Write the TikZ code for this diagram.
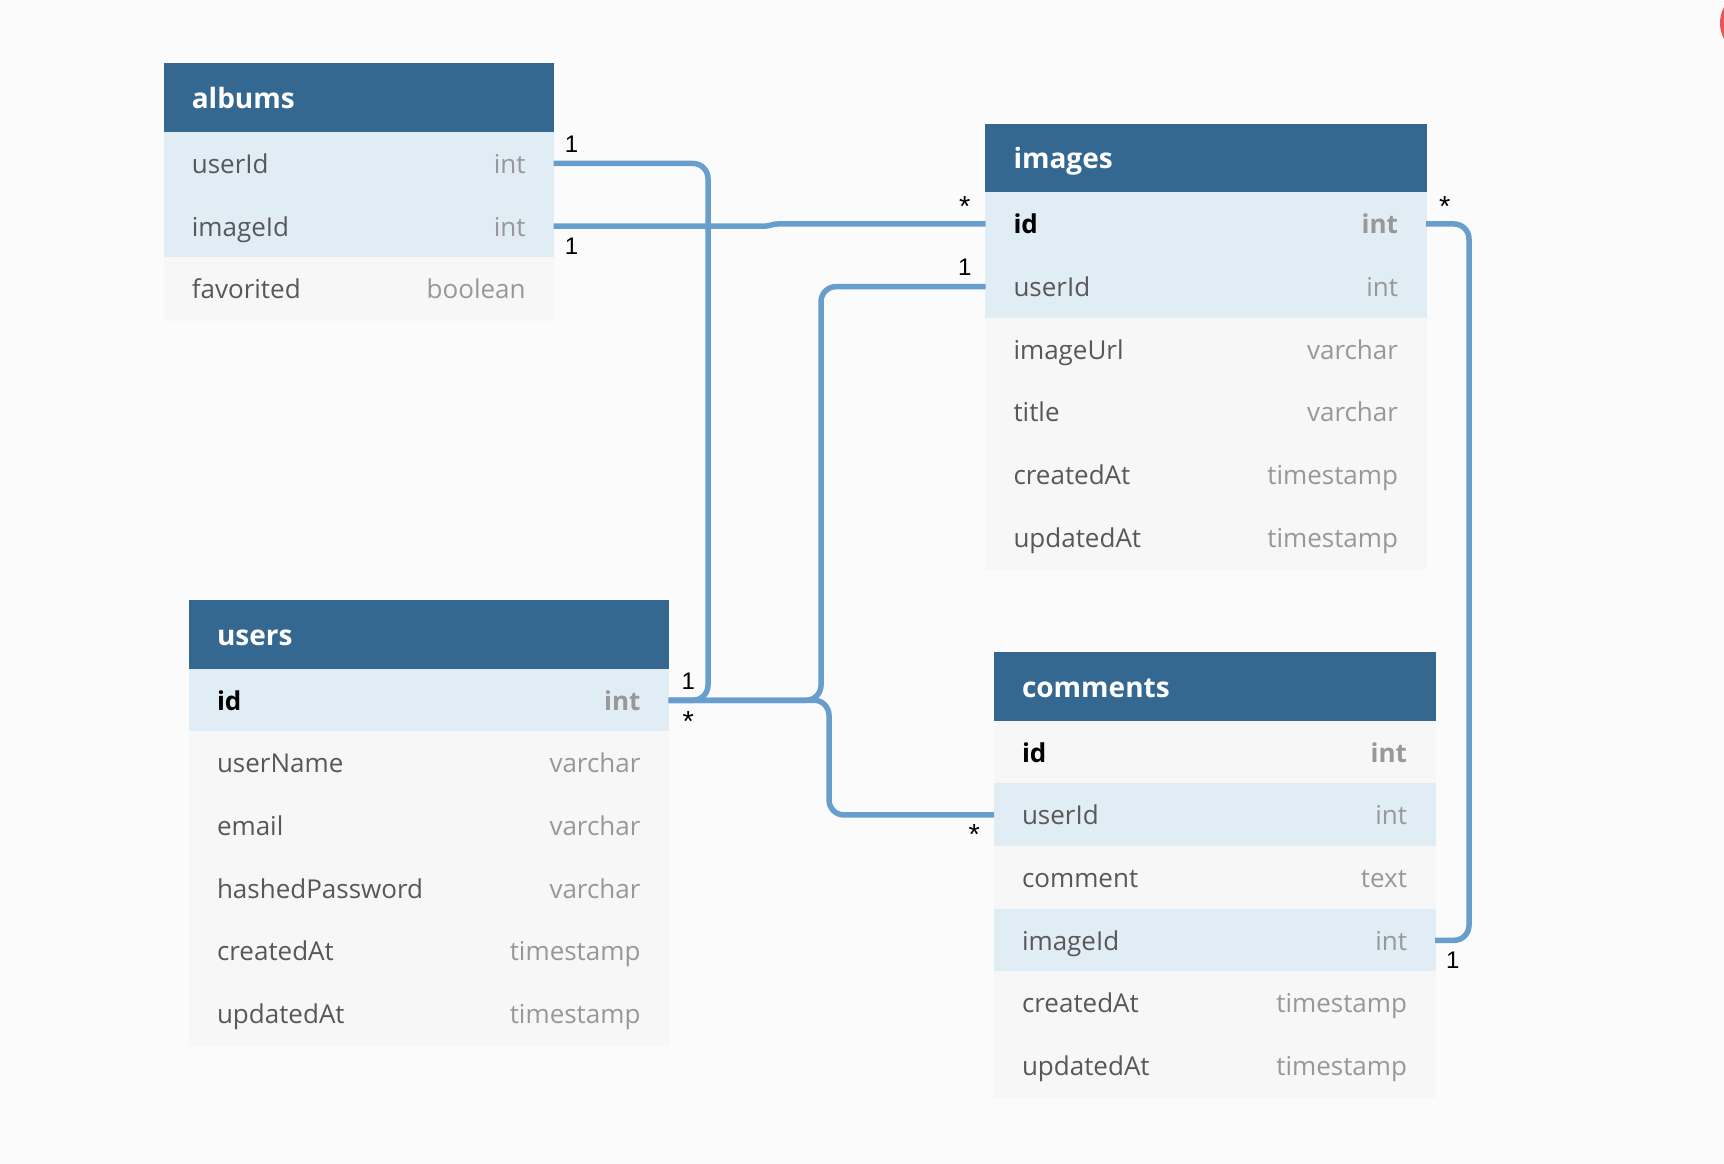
\documentclass[tikz,border=0pt]{standalone}
\usepackage{fontspec}
\setmainfont{Open Sans}
\newfontfamily\cardfont{Liberation Sans}
\usetikzlibrary{calc}

\definecolor{canvas}{RGB}{251,251,251}
\definecolor{headblue}{RGB}{52,104,145}
\definecolor{keyfill}{RGB}{224,237,245}
\definecolor{plainfill}{RGB}{247,247,247}
\definecolor{linkblue}{RGB}{104,158,204}
\definecolor{namegray}{RGB}{88,88,88}
\definecolor{typegray}{RGB}{152,152,152}
\definecolor{badge}{RGB}{232,84,92}

\tikzset{
  head/.style={anchor=north west,fill=headblue,draw=headblue,line width=0.6pt,outer sep=0pt,
    text=white,minimum height=68.6pt,inner xsep=28pt,inner ysep=0pt,text height=21pt,
    text depth=0pt,font=\fontsize{28}{32}\selectfont\bfseries},
  row/.style={anchor=north west,minimum height=62.7pt,inner xsep=28pt,inner ysep=0pt,
    outer sep=0pt,line width=0.6pt,text height=19.8pt,text depth=0pt,text=namegray,
    font=\fontsize{26}{30}\selectfont},
  keyrow/.style={row,fill=keyfill,draw=keyfill},
  plainrow/.style={row,fill=plainfill,draw=plainfill},
  link/.style={draw=linkblue,line width=5.5pt,rounded corners=15pt},
  card/.style={anchor=base,inner sep=0pt,font=\cardfont\fontsize{24}{26}\selectfont},
  many/.style={card,font=\cardfont\fontsize{29}{30}\selectfont}
}
\newcommand{\ty}[1]{{\color{typegray}#1}}
\newcommand{\pk}[2]{{\color{black}\bfseries #1}\hfill{\color{typegray}\bfseries #2}}

\begin{document}
\begin{tikzpicture}[x=1pt,y=-1pt]
  \fill[canvas] (0,0) rectangle (1724,1164);
  \useasboundingbox (0,0) rectangle (1724,1164);
  \begin{scope}
    \clip (0,0) rectangle (1724,1164);
    \fill[badge] (1754,23) circle (34);
  \end{scope}

  % albums
  \begin{scope}[every node/.append style={text width=333.8pt}]
    \node[head] (albums) at (163.8,63.5) {albums};
    \node[keyrow] (albums userId) at (albums.south west) {userId\hfill\ty{int}};
    \node[keyrow] (albums imageId) at (albums userId.south west) {imageId\hfill\ty{int}};
    \node[plainrow] (albums favorited) at (albums imageId.south west) {favorited\hfill\ty{boolean}};
  \end{scope}

  % images
  \begin{scope}[every node/.append style={text width=384.5pt}]
    \node[head] (images) at (985.5,124) {images};
    \node[keyrow] (images id) at (images.south west) {\pk{id}{int}};
    \node[keyrow] (images userId) at (images id.south west) {userId\hfill\ty{int}};
    \node[plainrow] (images imageUrl) at (images userId.south west) {imageUrl\hfill\ty{varchar}};
    \node[plainrow] (images title) at (images imageUrl.south west) {title\hfill\ty{varchar}};
    \node[plainrow] (images createdAt) at (images title.south west) {createdAt\hfill\ty{timestamp}};
    \node[plainrow] (images updatedAt) at (images createdAt.south west) {updatedAt\hfill\ty{timestamp}};
  \end{scope}

  % users
  \begin{scope}[every node/.append style={text width=423.5pt}]
    \node[head] (users) at (189,600.3) {users};
    \node[keyrow] (users id) at (users.south west) {\pk{id}{int}};
    \node[plainrow] (users userName) at (users id.south west) {userName\hfill\ty{varchar}};
    \node[plainrow] (users email) at (users userName.south west) {email\hfill\ty{varchar}};
    \node[plainrow] (users hashedPassword) at (users email.south west) {hashedPassword\hfill\ty{varchar}};
    \node[plainrow] (users createdAt) at (users hashedPassword.south west) {createdAt\hfill\ty{timestamp}};
    \node[plainrow] (users updatedAt) at (users createdAt.south west) {updatedAt\hfill\ty{timestamp}};
  \end{scope}

  % comments
  \begin{scope}[every node/.append style={text width=385pt}]
    \node[head] (comments) at (994,652.3) {comments};
    \node[plainrow] (comments id) at (comments.south west) {\pk{id}{int}};
    \node[keyrow] (comments userId) at (comments id.south west) {userId\hfill\ty{int}};
    \node[plainrow] (comments comment) at (comments userId.south west) {comment\hfill\ty{text}};
    \node[keyrow] (comments imageId) at (comments comment.south west) {imageId\hfill\ty{int}};
    \node[plainrow] (comments createdAt) at (comments imageId.south west) {createdAt\hfill\ty{timestamp}};
    \node[plainrow] (comments updatedAt) at (comments createdAt.south west) {updatedAt\hfill\ty{timestamp}};
  \end{scope}

  % links
  \draw[link] (albums userId.east) -| ([xshift=39.5pt]users id.east) -- (users id.east);
  \draw[link,rounded corners=3pt] (albums imageId.east) -- ([xshift=214pt]albums imageId.east)
    -- ([xshift=-211pt]images id.west) -- (images id.west);
  \draw[link] (images userId.west) -| ([xshift=152.5pt]users id.east) -- (users id.east);
  \draw[link] (users id.east) -- ([xshift=160.5pt]users id.east) |- (comments userId.west);
  \draw[link] (images id.east) -| ([xshift=34pt]comments imageId.east) -- (comments imageId.east);

  % cardinalities
  \node[card] (albums userId one) at ([xshift=18pt,yshift=10.8pt]albums userId.east) {1};
  \node[card] (albums imageId one) at ([xshift=18pt,yshift=-27.9pt]albums imageId.east) {1};
  \node[many] (images id many) at ([xshift=-20.7pt,yshift=7.5pt]images id.west) {*};
  \node[card] (images userId one) at ([xshift=-20.7pt,yshift=11.1pt]images userId.west) {1};
  \node[many] (images id many right) at ([xshift=18.8pt,yshift=7.8pt]images id.east) {*};
  \node[card] (users id one) at ([xshift=19.8pt,yshift=10.9pt]users id.east) {1};
  \node[many] (users id many) at ([xshift=19.8pt,yshift=-31.4pt]users id.east) {*};
  \node[many] (comments userId many) at ([xshift=-19.7pt,yshift=-29.5pt]comments userId.west) {*};
  \node[card] (comments imageId one) at ([xshift=17.7pt,yshift=-27.9pt]comments imageId.east) {1};
\end{tikzpicture}
\end{document}
